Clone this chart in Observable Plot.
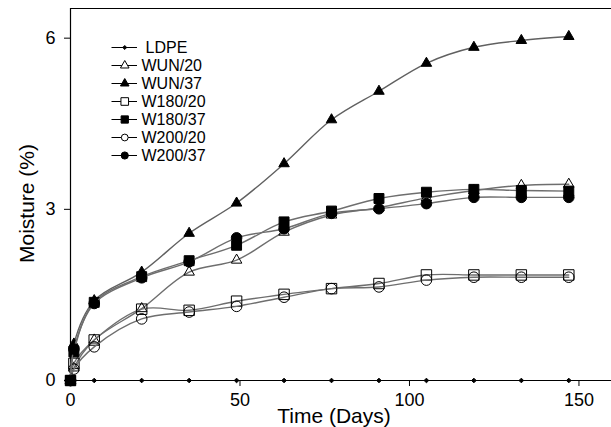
<!DOCTYPE html>
<html><head><meta charset="utf-8">
<script src="https://cdn.jsdelivr.net/npm/d3@7"></script>
<script src="https://cdn.jsdelivr.net/npm/@observablehq/plot@0.6"></script>
<style>
body{margin:0;background:#fff}
#wrap{position:relative;width:611px;height:427px;overflow:hidden}
#wrap svg{position:absolute;left:0;top:0}
</style>
</head><body><div id="wrap"></div>
<script>
// ---- data ----
const days = [0, 1, 7, 21, 35, 49, 63, 77, 91, 105, 119, 133, 147];
const seriesNames = ["LDPE", "WUN/20", "WUN/37", "W180/20", "W180/37", "W200/20", "W200/37"];
const LDPE   = [0, 0, 0, 0, 0, 0, 0, 0, 0, 0, 0, 0, 0];
const WUN20  = [0, 0.22, 0.71, 1.26, 1.90, 2.11, 2.60, 2.90, 3.03, 3.20, 3.33, 3.42, 3.44];
const WUN37  = [0, 0.64, 1.40, 1.90, 2.58, 3.11, 3.80, 4.57, 5.07, 5.56, 5.84, 5.96, 6.03];
const W18020 = [0, 0.30, 0.71, 1.25, 1.23, 1.39, 1.51, 1.61, 1.70, 1.85, 1.85, 1.85, 1.85];
const W18037 = [0, 0.50, 1.37, 1.82, 2.10, 2.37, 2.78, 2.97, 3.19, 3.30, 3.35, 3.33, 3.32];
const W20020 = [0, 0.20, 0.59, 1.08, 1.20, 1.30, 1.46, 1.61, 1.64, 1.76, 1.81, 1.81, 1.81];
const W20037 = [0, 0.55, 1.35, 1.80, 2.08, 2.50, 2.66, 2.93, 3.01, 3.10, 3.21, 3.21, 3.21];
const yTicks = [0, 3, 6];
const xTicks = [0, 50, 100, 150];
const xLabel = "Time (Days)";
const yLabel = "Moisture (%)";

// ---- styles ----
const values = [LDPE, WUN20, WUN37, W18020, W18037, W20020, W20037];
const styleOf = {
  "LDPE":    {symbol: "diamond2", filled: true,  r: 2.1, lr: 1.8, line: "#000", lw: 1},
  "WUN/20":  {symbol: "triangle", filled: false, r: 3.9, lr: 3.2, line: "#6e6e6e", lw: 1.4},
  "WUN/37":  {symbol: "triangle", filled: true,  r: 3.9, lr: 3.2, line: "#606060", lw: 1.4},
  "W180/20": {symbol: "square",   filled: false, r: 5.9, lr: 4.3, line: "#6e6e6e", lw: 1.4},
  "W180/37": {symbol: "square",   filled: true,  r: 5.6, lr: 4.1, line: "#6e6e6e", lw: 1.4},
  "W200/20": {symbol: "circle",   filled: false, r: 5.3, lr: 3.4, line: "#6e6e6e", lw: 1.4},
  "W200/37": {symbol: "circle",   filled: true,  r: 5.3, lr: 3.6, line: "#6e6e6e", lw: 1.4}
};
const rows = [];
seriesNames.forEach((s, i) => days.forEach((d, j) => rows.push({series: s, day: d, value: values[i][j]})));

const font = "'Liberation Sans', Arial, Helvetica, sans-serif";
const xMax = 159.6, yMax = 6.52;

const marks = [
  Plot.ruleY([yMax], {stroke: "#000", strokeWidth: 1.2}),
  Plot.ruleX([0], {stroke: "#000", strokeWidth: 1.2}),
  Plot.ruleY([0], {stroke: "#000", strokeWidth: 1.2}),
  Plot.axisY({ticks: yTicks, tickFormat: d => String(d), tickSize: 6, tickPadding: 9, label: null, fontSize: 18}),
  Plot.axisX({ticks: xTicks, tickFormat: d => String(d), tickSize: 6, tickPadding: 7, label: null, fontSize: 18}),
  Plot.text([yLabel], {frameAnchor: "left", textAnchor: "middle", lineAnchor: "middle", rotate: -90, dx: -43, dy: 9, fontSize: 21}),
  Plot.text([xLabel], {frameAnchor: "bottom", textAnchor: "middle", lineAnchor: "bottom", dx: -7, dy: 42, fontSize: 21})
];
for (const s of seriesNames) {
  const st = styleOf[s];
  const data = rows.filter(d => d.series === s);
  marks.push(Plot.line(data, {x: "day", y: "value", stroke: st.line, strokeWidth: st.lw, curve: "catmull-rom"}));
  marks.push(Plot.dot(data, {x: "day", y: "value", symbol: st.symbol, r: st.r,
    fill: st.filled ? "#000" : "none", stroke: "#000", strokeWidth: 1}));
}

const main = Plot.plot({
  width: 611, height: 427,
  marginLeft: 70, marginRight: 0, marginTop: 8, marginBottom: 47,
  style: {fontFamily: font, fontSize: "18px", color: "#000", background: "transparent", overflow: "visible"},
  x: {domain: [0, xMax]},
  y: {domain: [0, yMax]},
  marks
});

// ---- legend (overlay, drawn with its own Plot scales) ----
const legMarks = [];
for (const s of seriesNames) {
  const st = styleOf[s];
  legMarks.push(Plot.ruleY([s], {y: d => d, x1: 0, x2: 1, stroke: "#000", strokeWidth: 1}));
  legMarks.push(Plot.dot([s], {x: 0.5, y: d => d, symbol: st.symbol, r: st.lr,
    fill: st.filled ? "#000" : "#fff", stroke: "#000", strokeWidth: 1}));
}
legMarks.push(Plot.text(seriesNames.slice(1), {x: 1, y: d => d, text: d => d, textAnchor: "start", dx: 4, fontSize: 16}));
legMarks.push(Plot.text(seriesNames.slice(0, 1), {x: 1, y: d => d, text: d => d, textAnchor: "start", dx: 8, fontSize: 16}));
const legend = Plot.plot({
  width: 611, height: 427, margin: 0,
  style: {fontFamily: font, color: "#000", background: "transparent"},
  x: {type: "linear", domain: [0, 1], range: [111.5, 137], axis: null},
  y: {type: "point", domain: seriesNames, range: [36.7, 165], axis: null},
  marks: legMarks
});

const wrap = document.getElementById("wrap");
wrap.appendChild(main);
wrap.appendChild(legend);
</script>
</body></html>
